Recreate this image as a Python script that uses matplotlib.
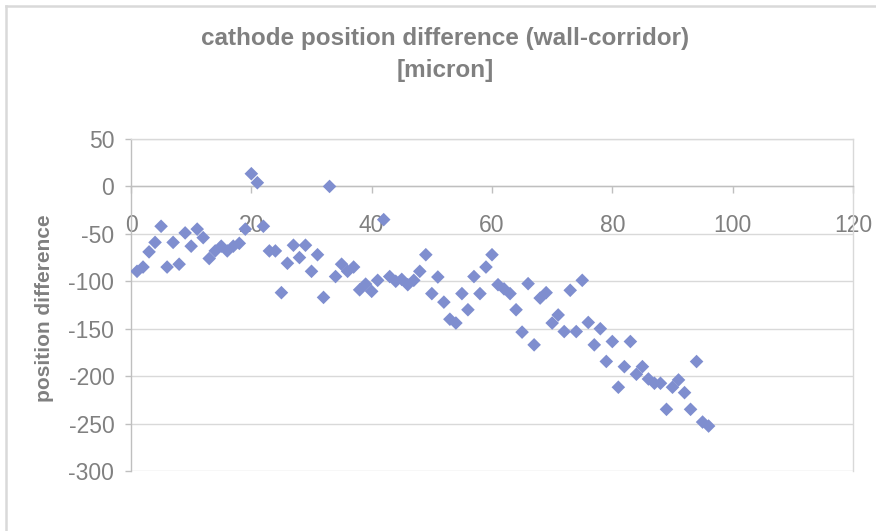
import matplotlib
matplotlib.use("Agg")
import matplotlib.pyplot as plt
from matplotlib.lines import Line2D

plt.rcParams['font.family'] = ['Liberation Sans', 'DejaVu Sans']
plt.rcParams['axes.unicode_minus'] = False

title = "cathode position difference (wall-corridor)\n[micron]"
ylabel = "position difference"
x_ticks = [0, 20, 40, 60, 80, 100, 120]
y_ticks = [50, 0, -50, -100, -150, -200, -250, -300]

x_vals = list(range(1, 97))
y_vals = [
    -89.5, -85, -69, -59, -42, -85, -59, -82, -49, -63,
    -45, -54, -76, -68, -63, -68, -63, -60, -45, 13.4,
    3.9, -42, -68, -68, -112, -81, -62, -75, -62, -89.5,
    -72, -117, 0, -95, -82, -89.5, -85, -109, -103, -110.6,
    -99, -35, -95, -100, -98, -103.6, -99, -89.5, -72, -113,
    -95.5, -122, -140, -144, -113, -130, -95, -113, -85, -72,
    -103.6, -108, -113, -130, -153.6, -102.5, -167, -117.7, -112, -144,
    -135.5, -153, -109.5, -153, -99, -143.4, -167, -150, -184.5, -163.5,
    -211.7, -190, -163.5, -198, -190, -203, -207.5, -207.5, -235, -211.7,
    -204, -217.4, -235, -184.6, -248.4, -252.6,
]

W, H = 876, 531
fig = plt.figure(figsize=(W / 100, H / 100), dpi=100)
fig.patch.set_facecolor('white')

# chart area border
fig.add_artist(Line2D([6 / W, 6 / W], [0, 1 - 6 / H], transform=fig.transFigure,
                      color='#d9d9d9', lw=1.8))
fig.add_artist(Line2D([6 / W, 1], [1 - 6 / H, 1 - 6 / H], transform=fig.transFigure,
                      color='#d9d9d9', lw=1.8))

left, right, top, bottom = 131, 853, 139, 471
ax = fig.add_axes([left / W, 1 - bottom / H, (right - left) / W, (bottom - top) / H])

ax.scatter(x_vals, y_vals, marker='D', s=48, color='#7f8ecf', edgecolors='none', zorder=3)

ax.set_xlim(0, 120)
ax.set_ylim(-300, 50)
ax.set_xticks(x_ticks)
ax.set_yticks(y_ticks)

ax.yaxis.grid(True, color='#d9d9d9', lw=1.0)
ax.set_axisbelow(True)

ax.spines['bottom'].set_position(('data', 0))
ax.spines['bottom'].set_color('#bfbfbf')
ax.spines['left'].set_color('#bfbfbf')
ax.spines['top'].set_color('#d9d9d9')
ax.spines['right'].set_color('#d9d9d9')
for s in ax.spines.values():
    s.set_linewidth(1.0)

ax.tick_params(axis='x', direction='out', length=5, width=1, color='#bfbfbf',
               pad=15, labelsize=16.5, labelcolor='#808080')
ax.tick_params(axis='y', direction='out', length=4, width=1, color='#bfbfbf',
               pad=8, labelsize=16.5, labelcolor='#808080')

fig.text(445 / W, 1 - 54 / H, title, ha='center', va='center', fontsize=17.5,
         fontweight='bold', color='#808080', linespacing=1.5)
fig.text(45 / W, 1 - 308 / H, ylabel, ha='center', va='center', rotation=90,
         fontsize=15, fontweight='bold', color='#808080')

fig.savefig('out.png', dpi=100)
